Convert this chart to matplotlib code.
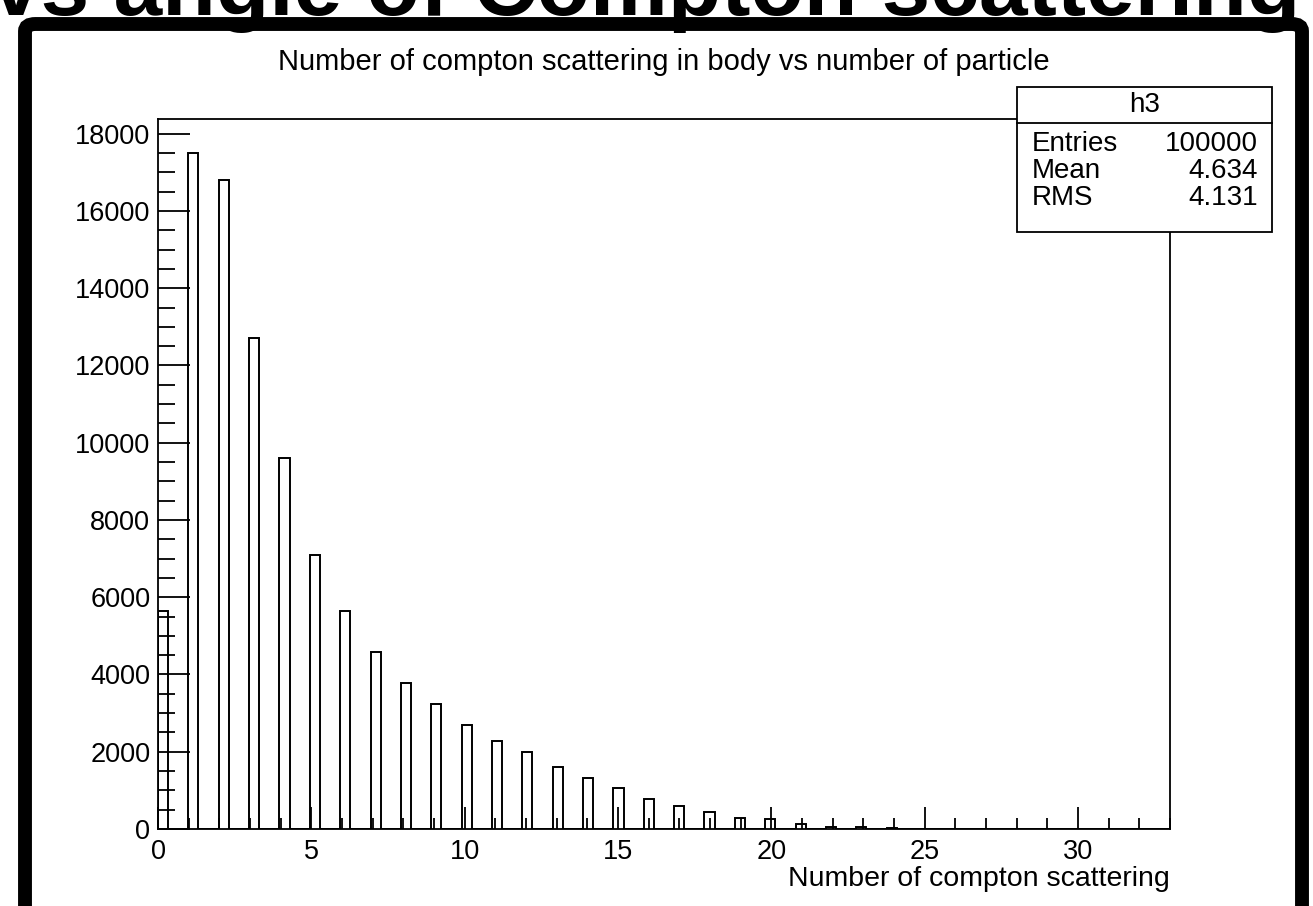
import numpy as np
import matplotlib
matplotlib.use("Agg")
import matplotlib.pyplot as plt
from matplotlib.patches import Rectangle, FancyBboxPatch
from matplotlib.lines import Line2D
from matplotlib.ticker import MultipleLocator

plt.rcParams["font.family"] = ["Liberation Sans", "DejaVu Sans"]

# ============================================================
# Data
# ============================================================
n_scatter = list(range(0, 26))
counts = [5650, 17500, 16800, 12700, 9600, 7090, 5640, 4580, 3770, 3230,
          2700, 2280, 1990, 1600, 1310, 1070, 780, 590, 440, 290,
          250, 120, 60, 55, 15, 8]

N_BINS, X_MIN, X_MAX = 100, 0.0, 33.0
Y_MAX = 18380

stats_name = "h3"
stats_labels = ["Entries", "Mean", "RMS"]
stats_values = ["100000", "4.634", "4.131"]

title = "Number of compton scattering in body vs number of particle"
xlabel = "Number of compton scattering"
slide_title = "vs angle of Compton scattering"

# fill the ROOT-like histogram (integer values in 0.33-wide bins)
edges = np.linspace(X_MIN, X_MAX, N_BINS + 1)
hist = np.zeros(N_BINS)
for n, c in zip(n_scatter, counts):
    hist[int(n * N_BINS / X_MAX)] += c

# ============================================================
# Figure
# ============================================================
W, H = 1313, 906
fig = plt.figure(figsize=(W / 100, H / 100), dpi=100)

ax = fig.add_axes([158 / W, 1 - 829 / H, (1170 - 158) / W, (829 - 119) / H])
ax.stairs(hist, edges, color="black", linewidth=1.4, baseline=0)
ax.set_xlim(X_MIN, X_MAX)
ax.set_ylim(0, Y_MAX)

ax.xaxis.set_major_locator(MultipleLocator(5))
ax.xaxis.set_minor_locator(MultipleLocator(1))
ax.yaxis.set_major_locator(MultipleLocator(2000))
ax.yaxis.set_minor_locator(MultipleLocator(500))
ax.tick_params(axis="both", which="both", direction="in", width=1.3,
               top=False, right=False, labelsize=19.5, colors="black")
ax.tick_params(axis="y", which="major", length=23, pad=5.5)
ax.tick_params(axis="y", which="minor", length=12)
ax.tick_params(axis="x", which="major", length=16, pad=7)
ax.tick_params(axis="x", which="minor", length=8)
for s in ax.spines.values():
    s.set_linewidth(1.3)

ax.set_xlabel(xlabel, fontsize=20.5, loc="right", labelpad=1)

fig.text(664 / W, 1 - 62 / H, title, fontsize=21, ha="center", va="center")

# ── stats box ─────────────────────────────────────────────
bx0, bx1 = 1017 / W, 1272 / W
by0, by1 = 1 - 232 / H, 1 - 87 / H
ydiv = 1 - 122.5 / H
fig.add_artist(Rectangle((bx0, by0), bx1 - bx0, by1 - by0, transform=fig.transFigure,
                         facecolor="white", edgecolor="black", linewidth=1.3, zorder=5))
fig.add_artist(Line2D([bx0, bx1], [ydiv, ydiv], transform=fig.transFigure,
                      color="black", linewidth=1.3, zorder=6))
fig.text((bx0 + bx1) / 2, (ydiv + by1) / 2, stats_name, fontsize=20,
         ha="center", va="center", zorder=7)
row_y = [144, 171, 198]
for lab, val, ry in zip(stats_labels, stats_values, row_y):
    fig.text(1032 / W, 1 - ry / H, lab, fontsize=20, ha="left", va="center", zorder=7)
    fig.text(1258 / W, 1 - ry / H, val, fontsize=20, ha="right", va="center", zorder=7)

# ── slide frame and clipped slide title ───────────────────
fig.add_artist(FancyBboxPatch((25 / W, -0.1), (1302 - 25) / W, (1 - 24 / H) + 0.1,
                              boxstyle="round,pad=0,rounding_size=0.008",
                              transform=fig.transFigure, facecolor="none",
                              edgecolor="black", linewidth=10, zorder=8))
fig.text(-8 / W, 1 - 15 / H, slide_title, fontsize=63, fontweight="bold",
         ha="left", va="baseline", zorder=9)

fig.savefig("out.png", dpi=100)
